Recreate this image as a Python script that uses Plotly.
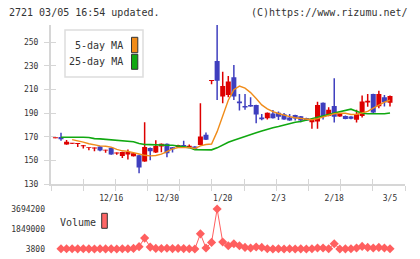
import plotly.graph_objects as go

# ---------------- data ----------------
idx = list(range(-1, 60))
opens = [169.0, 170.0, 163.6, 164.3, 164.0, 162.2, 160.6, 160.2, 161.9, 158.5,
         160.8, 156.0, 154.0, 155.1, 153.8, 154.5, 149.3, 160.6, 156.8, 162.0,
         164.2, 161.4, 161.4, 163.3, 161.4, 162.0, 163.3, 171.8, 217.3, 234.2,
         204.1, 205.5, 220.5, 199.9, 196.2, 197.1, 197.1, 186.4, 185.9, 189.8,
         190.4, 189.2, 186.4, 188.6, 187.6, 186.0, 182.4, 183.0, 199.0, 187.8,
         196.2, 187.2, 187.8, 187.2, 184.6, 187.8, 199.2, 206.4, 195.9, 203.6,
         199.0]
highs = [169.3, 173.5, 167.5, 165.0, 164.6, 163.2, 161.2, 161.0, 162.1, 159.3,
         161.0, 156.8, 157.6, 159.4, 156.5, 155.0, 182.5, 161.0, 167.3, 164.5,
         164.5, 161.6, 163.5, 166.7, 163.6, 162.2, 198.5, 173.7, 218.2, 264.6,
         225.2, 221.6, 230.8, 206.4, 206.4, 203.6, 197.3, 189.4, 190.6, 192.7,
         191.5, 190.3, 189.5, 188.8, 187.8, 186.2, 184.6, 199.7, 199.2, 195.2,
         219.6, 189.8, 188.2, 187.5, 192.9, 205.0, 206.2, 206.6, 209.0, 205.5,
         205.0]
lows = [169.0, 166.8, 163.5, 164.0, 161.5, 160.3, 158.8, 158.0, 158.0, 156.6,
        155.0, 155.0, 152.3, 151.0, 153.6, 139.3, 149.0, 150.3, 156.5, 157.0,
        152.8, 156.8, 161.2, 161.8, 161.2, 159.5, 163.0, 167.4, 214.6, 201.3,
        198.5, 203.6, 201.3, 192.3, 192.9, 195.5, 181.6, 184.2, 184.8, 185.5,
        184.4, 184.5, 183.7, 183.9, 182.5, 183.6, 176.9, 176.9, 184.7, 187.5,
        182.2, 187.0, 185.0, 185.0, 182.2, 186.4, 195.5, 190.2, 194.3, 195.7,
        195.7]
closes = [169.3, 168.0, 166.0, 164.8, 164.5, 163.0, 161.1, 160.8, 158.5, 159.1,
          155.2, 156.6, 157.2, 157.4, 156.3, 144.2, 161.5, 158.0, 162.3, 164.2,
          156.2, 159.7, 163.3, 162.0, 162.6, 160.0, 170.3, 167.6, 218.2, 217.6,
          213.1, 216.8, 204.1, 198.5, 194.8, 195.7, 189.0, 185.0, 190.4, 185.9,
          187.1, 184.7, 183.9, 185.5, 183.9, 183.9, 184.3, 197.1, 187.0, 192.9,
          187.0, 189.5, 185.2, 185.3, 189.2, 199.9, 200.6, 190.6, 206.4, 199.4,
          204.7]

ma_idx = list(range(0, 60))
ma5 = [None, None, 167.8, 167.0, 165.6, 164.3, 163.3, 162.5, 162.2, 161.4,
       159.5, 158.3, 157.8, 157.0, 155.6, 154.5, 154.0, 154.3, 155.5, 157.7,
       160.0, 161.0, 161.0, 161.0, 160.2, 162.5, 163.6, 164.0, 174.5, 188.0,
       201.0, 210.0, 213.0, 211.2, 207.5, 202.5, 197.1, 193.8, 191.4, 189.8,
       188.3, 187.2, 186.2, 185.6, 184.8, 184.6, 185.5, 187.0, 188.5, 189.6,
       190.0, 190.0, 189.0, 189.2, 190.3, 191.6, 194.3, 197.0, 199.5, 201.0]
ma25 = [169.8, 169.8, 169.8, 170.3, 169.8, 169.5, 168.6, 168.4, 168.0, 167.5,
        167.0, 167.0, 166.3, 166.0, 164.5, 163.6, 163.5, 163.2, 163.0, 163.0,
        163.0, 162.5, 161.5, 161.0, 159.2, 159.1, 159.1, 159.1, 160.8, 163.5,
        165.5, 167.3, 169.0, 170.5, 172.0, 173.5, 175.0, 176.6, 177.8, 178.8,
        180.2, 181.3, 182.5, 183.0, 184.2, 185.0, 186.0, 187.5, 189.0, 190.3,
        191.5, 192.5, 193.5, 191.8, 190.0, 189.6, 189.4, 189.4, 189.6, 190.3]

volume = [30000, 25000, 20000, 15000, 20000, 15000, 10000, 20000, 12000, 15000,
          10000, 20000, 30000, 60000, 220000, 1010000, 180000, 60000, 50000, 70000,
          40000, 60000, 40000, 30000, 3800, 1400000, 95000, 610000, 3694200, 645000,
          306000, 489000, 306000, 150000, 95000, 187000, 150000, 31000, 10000, 31000,
          10000, 31000, 10000, 15000, 10000, 31000, 95000, 95000, 31000, 489000,
          10000, 15000, 31000, 95000, 242000, 150000, 95000, 150000, 95000, 20000]

date_pos = [9, 19, 29, 39, 49, 59]
date_labels = ["12/16", "12/30", "1/20", "2/3", "2/18", "3/5"]
price_ticks = [130, 150, 170, 190, 210, 230, 250]
vol_ticks = [3800, 1849000, 3694200]
vol_labels = ["3800", "1849000", "3694200"]

# ---------------- styling ----------------
RED = "#dd0000"
BLUE = "#3f3fbf"
ORANGE = "#f08c1a"
GREEN = "#11a811"
VOLC = "#ff5f5f"
AX = "#d6d6d6"
TXT = "#333333"
MONO = "DejaVu Sans Mono"

x_lo, x_hi = -1.793, 61.69
y_lo, y_hi = 130, 264.6
n_div = 11
div_ticks = [x_lo + (x_hi - x_lo) * k / n_div for k in range(n_div + 1)]

up = [c >= o for o, c in zip(opens, closes)]
colors = [RED if u else BLUE for u in up]
bases = [min(o, c) for o, c in zip(opens, closes)]
heights = [max(abs(c - o), 0.8) for o, c in zip(opens, closes)]

fig = go.Figure()

for col, flag in ((RED, True), (BLUE, False)):
    wx, wy = [], []
    for i, h, l, u in zip(idx, highs, lows, up):
        if u == flag:
            wx += [i, i, None]
            wy += [l, h, None]
    fig.add_trace(go.Scatter(x=wx, y=wy, mode="lines",
                             line=dict(color=col, width=1.5),
                             hoverinfo="skip", showlegend=False))

fig.add_trace(go.Bar(x=idx, y=heights, base=bases, width=0.9,
                     marker=dict(color=colors, line=dict(width=0)),
                     showlegend=False))

fig.add_trace(go.Scatter(x=ma_idx, y=ma25, mode="lines",
                         line=dict(color=GREEN, width=1.6), showlegend=False))
fig.add_trace(go.Scatter(x=ma_idx, y=ma5, mode="lines",
                         line=dict(color=ORANGE, width=1.4), showlegend=False))

fig.add_trace(go.Scatter(x=ma_idx, y=volume, mode="lines+markers",
                         xaxis="x2", yaxis="y2", cliponaxis=False,
                         line=dict(color=VOLC, width=1),
                         marker=dict(symbol="diamond", size=7, color=VOLC),
                         showlegend=False))

fig.add_trace(go.Scatter(x=[None], y=[None], xaxis="x3", yaxis="y",
                         showlegend=False, hoverinfo="skip"))
fig.add_trace(go.Scatter(x=[None], y=[None], xaxis="x", yaxis="y3",
                         showlegend=False, hoverinfo="skip"))

H_DOM = [0.2888, 1.0]
V_DOM = [0.0, 0.1786]

fig.update_layout(
    width=420, height=259,
    margin=dict(l=51, r=15, t=25, b=10, pad=0, autoexpand=False),
    paper_bgcolor="white", plot_bgcolor="white",
    barmode="overlay",
    font=dict(family=MONO, size=8, color=TXT),
    xaxis=dict(domain=[0, 1], range=[x_lo, x_hi], anchor="y", automargin=False,
               showgrid=False, zeroline=False,
               showline=True, linecolor=AX, linewidth=2,
               tickmode="array", tickvals=div_ticks, ticks="outside",
               ticklen=5, tickcolor=AX, tickwidth=1, showticklabels=False),
    xaxis3=dict(overlaying="x", range=[x_lo, x_hi], anchor="y", automargin=False,
                showgrid=False, zeroline=False, showline=False,
                tickmode="array", tickvals=div_ticks, ticks="inside",
                ticklen=5, tickcolor=AX, tickwidth=1, showticklabels=False),
    yaxis=dict(domain=H_DOM, range=[y_lo, y_hi], anchor="x", automargin=False,
               showgrid=False, zeroline=False,
               showline=True, linecolor=AX, linewidth=2,
               tickmode="array", tickvals=price_ticks, ticks="outside",
               ticklen=5, tickcolor=AX, tickwidth=1,
               ticklabelstandoff=4,
               tickfont=dict(family=MONO, size=8, color=TXT)),
    yaxis3=dict(overlaying="y", range=[y_lo, y_hi], anchor="x", automargin=False,
                showgrid=False, zeroline=False, showline=False,
                tickmode="array", tickvals=price_ticks, ticks="inside",
                ticklen=5, tickcolor=AX, tickwidth=1, showticklabels=False),
    xaxis2=dict(domain=[0, 1], range=[x_lo, x_hi], anchor="y2", side="top",
                automargin=False,
                showgrid=False, zeroline=False, showline=False, ticks="",
                tickmode="array", tickvals=date_pos, ticktext=date_labels,
                ticklabelstandoff=5,
                tickfont=dict(family=MONO, size=8, color=TXT)),
    yaxis2=dict(domain=V_DOM, range=[3800, 3694200], anchor="x2", automargin=False,
                showgrid=False, zeroline=False, showline=False, ticks="",
                tickmode="array", tickvals=vol_ticks, ticktext=vol_labels,
                ticklabelstandoff=5,
                tickfont=dict(family=MONO, size=8, color=TXT)),
)

def px_x(p):
    return (p - 51) / 354.0

def px_y(p):
    return (249 - p) / 224.0

shapes = [
    dict(type="rect", xref="paper", yref="paper", x0=px_x(65), x1=px_x(143),
         y0=px_y(77), y1=px_y(30), line=dict(color="#dddddd", width=1.5),
         fillcolor="white", layer="above"),
    dict(type="rect", xref="paper", yref="paper", x0=px_x(131.5), x1=px_x(137.8),
         y0=px_y(52.7), y1=px_y(37.3), line=dict(color="#333333", width=1),
         fillcolor=ORANGE, layer="above"),
    dict(type="rect", xref="paper", yref="paper", x0=px_x(131.5), x1=px_x(137.8),
         y0=px_y(69.3), y1=px_y(54.3), line=dict(color="#333333", width=1),
         fillcolor=GREEN, layer="above"),
    dict(type="rect", xref="paper", yref="paper", x0=px_x(101.7), x1=px_x(107.3),
         y0=px_y(228.3), y1=px_y(213.3), line=dict(color="#333333", width=1),
         fillcolor="#ff6666", layer="above"),
]
fig.update_layout(shapes=shapes)

ann_font = dict(family=MONO, size=10, color=TXT)
annotations = [
    dict(text="2721 03/05 16:54 updated.", xref="paper", yref="paper",
         x=px_x(7), y=px_y(12.8), xanchor="left", yanchor="middle",
         showarrow=False, font=ann_font),
    dict(text="(C)https://www.rizumu.net/", xref="paper", yref="paper",
         x=px_x(410), y=px_y(12.8), xanchor="right", yanchor="middle",
         showarrow=False, font=ann_font),
    dict(text="5-day MA", xref="paper", yref="paper",
         x=px_x(125), y=px_y(45.5), xanchor="right", yanchor="middle",
         showarrow=False, font=ann_font),
    dict(text="25-day MA", xref="paper", yref="paper",
         x=px_x(125), y=px_y(62), xanchor="right", yanchor="middle",
         showarrow=False, font=ann_font),
    dict(text="Volume", xref="paper", yref="paper",
         x=px_x(58), y=px_y(222.3), xanchor="left", yanchor="middle",
         showarrow=False, font=ann_font),
]
fig.update_layout(annotations=annotations)

fig.write_html(
    "out.html",
    config={"displayModeBar": False, "staticPlot": True},
    post_script=(
        "document.documentElement.style.margin='0px';"
        "document.documentElement.style.overflow='hidden';"
        "document.body.style.margin='0px';"
        "document.body.style.padding='0px';"
        "document.body.style.overflow='hidden';"
    ),
)
